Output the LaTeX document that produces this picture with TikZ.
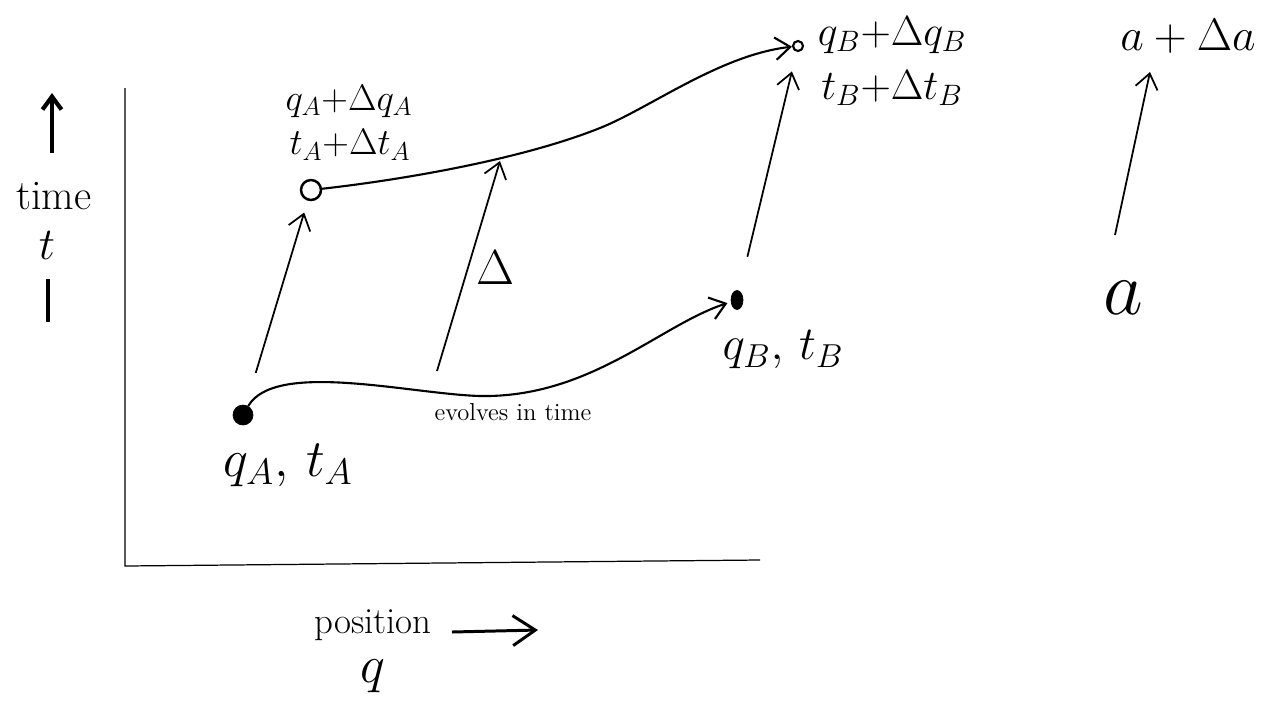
\RequirePackage{fix-cm}
\documentclass[tikz,border=0pt]{standalone}
\usepackage{fontspec}
\usetikzlibrary{arrows.meta,calc,shapes.geometric}
\tikzset{
  arr/.style={-{Straight Barb[length=3mm,width=4.5mm]}, line width=1pt},
  curve/.style={-{Straight Barb[length=3mm,width=4.5mm]}, line width=1.2pt},
  axisline/.style={line width=0.7pt},
  fulldot/.style={circle, fill=black, draw=black, inner sep=0pt, minimum size=0.4cm},
  fulldotB/.style={ellipse, fill=black, draw=black, inner sep=0pt, minimum width=0.24cm, minimum height=0.38cm},
  opendot/.style={circle, draw=black, line width=1.4pt, inner sep=0pt, minimum size=0.4cm},
  smalldot/.style={circle, draw=black, line width=1.2pt, inner sep=0pt, minimum size=0.2cm},
  lbl/.style={inner sep=0pt, font=\fontsize{#1}{#1}\selectfont},
}
\begin{document}
\begin{tikzpicture}[x=0.02cm, y=-0.02cm]
\useasboundingbox (0,0) rectangle (1264,711);

% axes
\coordinate (ytop) at (125,88);
\coordinate (corner) at (125,566);
\coordinate (xend) at (760,560);
\draw[axisline] (ytop) -- (corner) -- (xend);

% time axis label
\coordinate (ta1) at (52,153);
\coordinate (ta2) at (52,93);
\draw[line width=2.4pt, -{Straight Barb[length=2.6mm,width=3.8mm]}] (ta1) -- (ta2);
\node[lbl=24] (time) at (54,196) {time};
\node[lbl=26] (tsym) at (47,245) {$t$};
\coordinate (tb1) at (48,279);
\coordinate (tb2) at (48,322);
\draw[line width=2.4pt] (tb1) -- (tb2);

% position label
\node[lbl=21] (pos) at (373,625) {position};
\coordinate (pa1) at (452,632);
\coordinate (pa2) at (538,630);
\draw[line width=1.7pt, -{Straight Barb[length=4.5mm,width=6mm]}] (pa1) -- (pa2);
\node[lbl=30] (qsym) at (373,676) {$q$};

% points
\node[fulldot] (A) at (243,415) {};
\node[opendot] (Ap) at (311,190) {};
\node[fulldotB] (B) at (737,300) {};
\node[smalldot] (Bp) at (798,46) {};

% point labels
\node[lbl=30] (lA) at (288,465) {$q_A,\,t_A$};
\node[lbl=21] (lAp1) at (349,101) {$q_A{+}\Delta q_A$};
\node[lbl=21] (lAp2) at (350,145) {$t_A{+}\Delta t_A$};
\node[lbl=27] (lB) at (783,350) {$q_B,\,t_B$};
\node[lbl=24] (lBp1) at (892,35) {$q_B{+}\Delta q_B$};
\node[lbl=24] (lBp2) at (892,88) {$t_B{+}\Delta t_B$};

% trajectories
\coordinate (lm) at (480,396);
\draw[curve, shorten >=2pt] (A) .. controls (275,360) and (410,394) .. (lm)
      .. controls (590,398) and (660,325) .. (B);
\coordinate (um) at (600,128);
\draw[curve] (Ap) .. controls (400,180) and (520,160) .. (um)
      .. controls (650,108) and (720,55) .. (Bp);
\node[lbl=14] (evo) at (513,412) {evolves in time};

% Delta arrows
\draw[arr] ($(A)!0.187!(Ap)$) -- ($(A)!0.9!(Ap)$);
\coordinate (m1) at (437,371);
\coordinate (m2) at (500,161);
\draw[arr] (m1) -- (m2);
\node[lbl=28] (dl) at (495,268) {$\Delta$};
\draw[arr] ($(B)!0.17!(Bp)$) -- ($(B)!0.9!(Bp)$);

% right-hand example
\node[lbl=44] (a) at (1123,298) {$a$};
\node[lbl=26] (aa) at (1188,36) {$a+\Delta a$};
\coordinate (a1) at (1115,235);
\coordinate (a2) at (1150,72);
\draw[arr] (a1) -- (a2);
\end{tikzpicture}
\end{document}
